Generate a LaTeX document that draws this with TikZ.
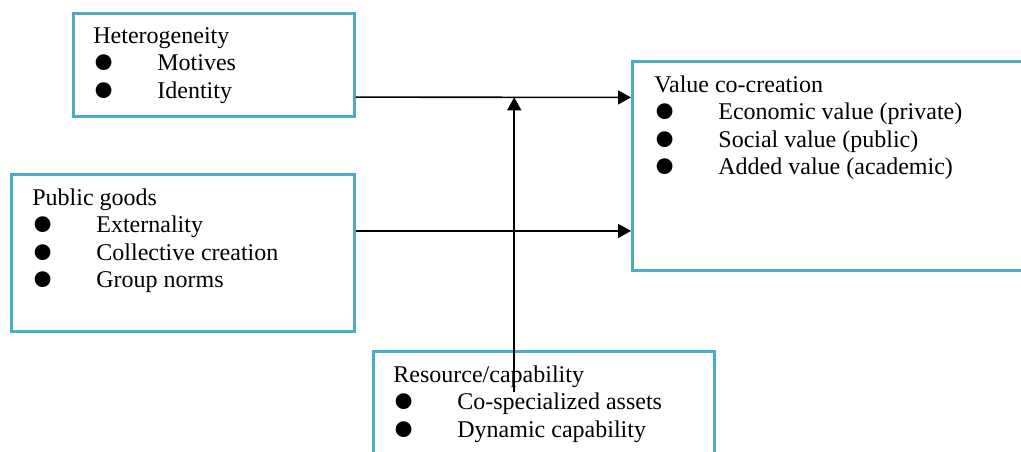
\documentclass[tikz,border=0pt]{standalone}
\usepackage{fontspec}
\setmainfont{Liberation Serif}
\usepackage{graphicx}
\usetikzlibrary{arrows.meta, calc}
\definecolor{my_teal}{HTML}{4BACC6}
\newcommand{\bul}{\smash{\raisebox{-7pt}{\scalebox{2.75}{\textbullet}}}}
\newcommand{\itm}[1]{\makebox[32pt][l]{\hspace{-0.5pt}\bul}#1}

\begin{document}
\begin{tikzpicture}[
    x=0.5pt, y=-0.5pt,
    box/.style={draw=my_teal, line width=1.3pt, anchor=north west, inner sep=0pt},
    txt/.style={anchor=base west, inner sep=0pt, font=\fontsize{12}{13.75}\selectfont},
    arr/.style={-{Triangle[length=6.5pt, width=7pt]}, line width=0.8pt}
]
\clip (0, 0) rectangle (1021, 451);

% ---------------------------------------------------------------
%  three sources (left, bottom) feeding value co-creation (right)
% ---------------------------------------------------------------

% ---- boxes ----
\node[box, minimum width=140.5pt, minimum height=51.5pt] (het) at (72, 12) {};
\node[box, minimum width=171.5pt, minimum height=78.5pt] (pub) at (10, 173) {};
\node[box, minimum width=205pt, minimum height=104.5pt] (val) at (631, 60) {};
\node[box, minimum width=170.5pt, minimum height=60pt] (res) at (372, 350) {};

% ---- texts ----
\node[txt] (hetTxt) at ($(het.north west) + (21, 31)$) {%
    \begin{tabular}[t]{@{}l@{}}
    Heterogeneity\\
    \itm{Motives}\\
    \itm{Identity}
    \end{tabular}};
\node[txt] (pubTxt) at ($(pub.north west) + (22, 32)$) {%
    \begin{tabular}[t]{@{}l@{}}
    Public goods\\
    \itm{Externality}\\
    \itm{Collective creation}\\
    \itm{Group norms}
    \end{tabular}};
\node[txt] (valTxt) at ($(val.north west) + (23, 32)$) {%
    \begin{tabular}[t]{@{}l@{}}
    Value co-creation\\
    \itm{Economic value (private)}\\
    \itm{Social value (public)}\\
    \itm{Added value (academic)}
    \end{tabular}};
\node[txt] (resTxt) at ($(res.north west) + (21, 32)$) {%
    \begin{tabular}[t]{@{}l@{}}
    Resource/capability\\
    \itm{Co-specialized assets}\\
    \itm{Dynamic capability}
    \end{tabular}};

% ---- arrows ----
\coordinate (hetOut) at ($(het.north east)!0.806!(het.south east)$);
\coordinate (pubOut) at ($(pub.north east)!0.363!(pub.south east)$);
\coordinate (valInA) at ($(val.north west)!0.177!(val.south west)$);
\coordinate (valInB) at ($(val.north west)!0.813!(val.south west)$);
\coordinate (hvJoin) at ($(hetOut)!0.576!(valInA)$);
\coordinate (resOut) at ($(hvJoin |- res.north) + (0, 42)$);

\draw[arr] (hetOut) -- (valInA);
\draw[arr] (pubOut) -- (pubOut -| valInB);
\draw[arr] (resOut) -- (hvJoin);

\end{tikzpicture}
\end{document}
